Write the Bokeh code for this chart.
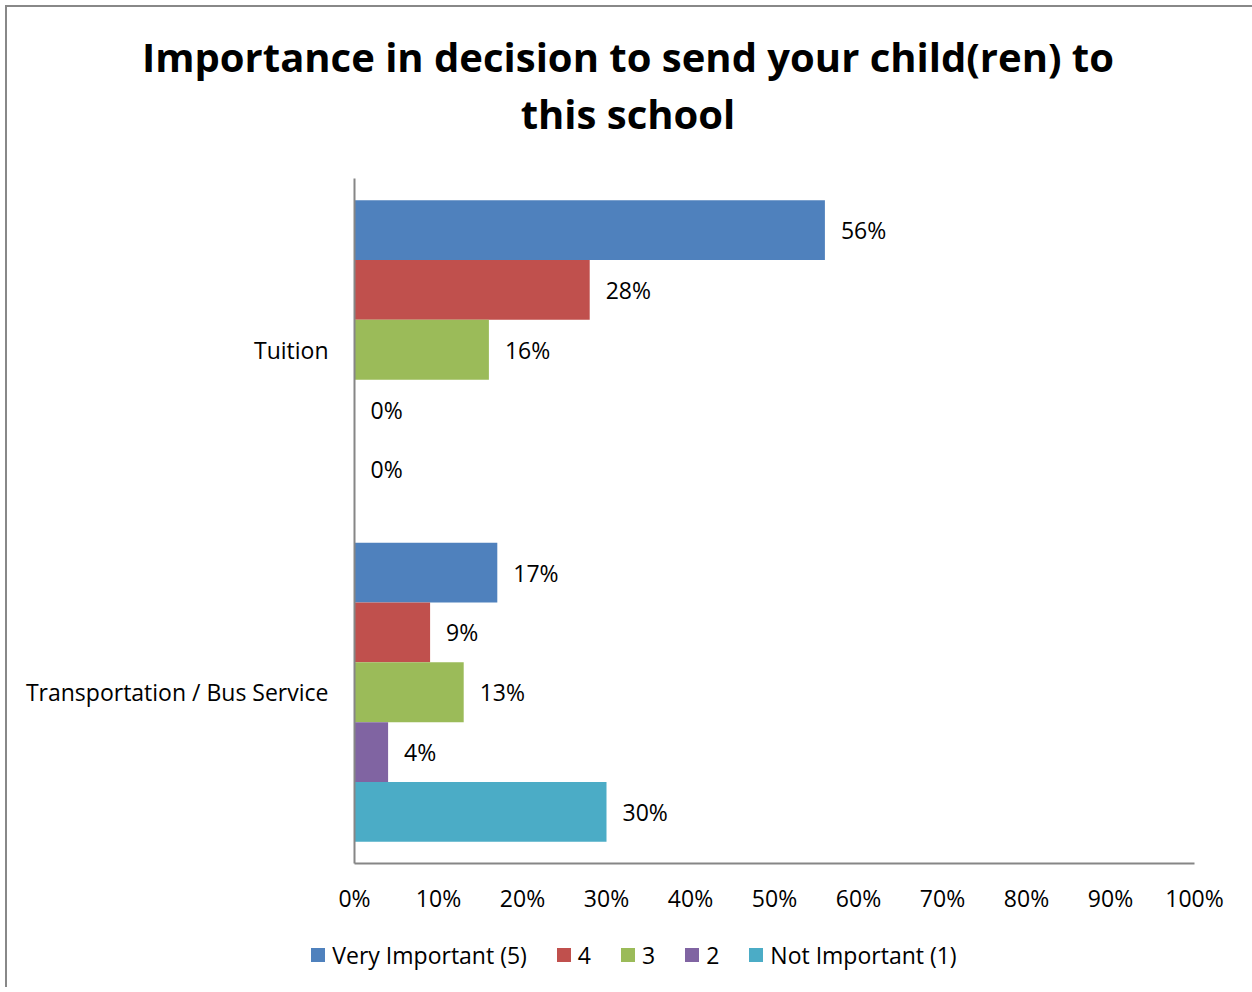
from bokeh.plotting import figure
from bokeh.layouts import column
from bokeh.models import (Range1d, FactorRange, FixedTicker, NumeralTickFormatter,
                          ColumnDataSource, Div)
from bokeh.transform import dodge
from bokeh.embed import file_html
from bokeh.resources import INLINE
from bokeh.core.properties import value

title_lines = ["Importance in decision to send your child(ren) to", "this school"]
categories = ["Transportation / Bus Service", "Tuition"]  # bottom to top
series_names = ["Very Important (5)", "4", "3", "2", "Not Important (1)"]
colors = ["#4F81BD", "#C0504D", "#9BBB59", "#8064A2", "#4BACC6"]
# values per series, in order of categories list
vals_very = [0.17, 0.56]
vals_4 = [0.09, 0.28]
vals_3 = [0.13, 0.16]
vals_2 = [0.04, 0.00]
vals_not = [0.30, 0.00]
series_vals = [vals_very, vals_4, vals_3, vals_2, vals_not]
x_ticks = [0, 0.1, 0.2, 0.3, 0.4, 0.5, 0.6, 0.7, 0.8, 0.9, 1.0]

FONT = "Open Sans"
W = 1236
TH, MH, LH = 140, 766, 54

# ---- title block
title_div = Div(
    width=W, height=TH,
    text=("<div style=\"width:%dpx;box-sizing:border-box;text-align:center;"
          "font-family:'Open Sans';font-weight:bold;font-size:40px;line-height:57px;"
          "color:#000;padding-top:16px;padding-right:4px;\">%s</div>")
    % (W, "<br>".join(title_lines)))

# ---- main chart
p = figure(width=W, height=MH, output_backend="svg", toolbar_location=None,
           x_range=Range1d(0, 1), y_range=FactorRange(factors=categories, range_padding=0,
                                                       factor_padding=0),
           min_border_left=347, min_border_right=49, min_border_top=21, min_border_bottom=60)
p.outline_line_color = None
p.grid.visible = False

bar_h = 0.1746
for i, (name, vals, col) in enumerate(zip(series_names, series_vals, colors)):
    off = (2 - i) * bar_h
    src = ColumnDataSource(dict(cat=categories, v=vals,
                                lab=[f"{round(v*100)}%" for v in vals]))
    p.hbar(y=dodge("cat", off, range=p.y_range), right="v", left=0, height=bar_h,
           source=src, fill_color=col, line_color=None)
    p.text(x="v", y=dodge("cat", off, range=p.y_range), text="lab", source=src,
           x_offset=16, text_baseline="middle", text_align="left",
           text_font=value(FONT), text_font_size="23px", text_color="#000000")

xa = p.xaxis[0]
xa.ticker = FixedTicker(ticks=x_ticks)
xa.formatter = NumeralTickFormatter(format="0%")
ya = p.yaxis[0]
for ax in (xa, ya):
    ax.axis_line_color = "#868686"
    ax.axis_line_width = 2
    ax.major_tick_line_color = None
    ax.minor_tick_line_color = None
    ax.major_tick_in = 0
    ax.major_tick_out = 0
    ax.major_label_text_font = FONT
    ax.major_label_text_font_size = "23px"
    ax.major_label_text_color = "#000000"
xa.major_label_standoff = 18
ya.major_label_standoff = 26

# ---- legend block
item_html = "".join(
    "<span style='display:inline-flex;align-items:center;margin:0 15px;'>"
    "<span style='display:inline-block;width:14px;height:14px;background:%s;"
    "margin-right:7px;'></span>%s</span>" % (c, n)
    for n, c in zip(series_names, colors))
legend_div = Div(
    width=W, height=LH,
    text=("<div style=\"width:%dpx;height:%dpx;box-sizing:border-box;display:flex;"
          "justify-content:center;align-items:center;padding-left:8px;"
          "font-family:'Open Sans';font-size:23px;color:#000;\">%s</div>")
    % (W, LH, item_html))

layout = column(title_div, p, legend_div, spacing=0)
layout.styles = {"margin-left": "5px", "margin-top": "5px",
                 "border-left": "2px solid #888888", "border-top": "2px solid #888888"}

open("out.html", "w").write(file_html(layout, INLINE))
